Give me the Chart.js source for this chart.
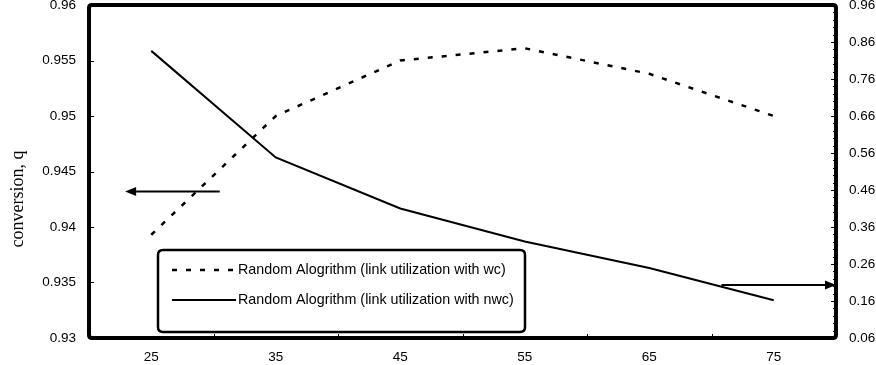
<!DOCTYPE html>
<html><head><meta charset="utf-8">
<style>html,body{margin:0;padding:0;background:#fff}#wrap{width:876px;height:365px}</style>
<script src="https://cdn.jsdelivr.net/npm/chart.js@4.4.1/dist/chart.umd.min.js"></script>
</head><body><div id="wrap"><canvas id="c" width="876" height="365"></canvas></div>
<script>
// ---- data ----
const categories = ['25', '35', '45', '55', '65', '75'];
const wcValues = [0.9393, 0.9500, 0.9550, 0.9561, 0.9538, 0.9500];   // left axis
const nwcValues = [0.836, 0.548, 0.410, 0.321, 0.249, 0.162];        // right axis
const leftTicks = [0.93, 0.935, 0.94, 0.945, 0.95, 0.955, 0.96];
const rightTicks = [0.06, 0.16, 0.26, 0.36, 0.46, 0.56, 0.66, 0.76, 0.86, 0.96];
const seriesLabels = ['Random Alogrithm (link utilization with wc)', 'Random Alogrithm (link utilization with nwc)'];
const yTitle = 'conversion, q';
// annotation arrows in data units: [xFromIndex, xToIndex, value]
const leftArrow = [0.55, -0.21, 0.9432];
const rightArrow = [4.58, 5.5, 0.203];

const FONT = "'Liberation Sans', Arial, sans-serif";

function fixScale(w, h) {
  return function (s) {
    if (w !== null) s.width = w;
    if (h !== null) s.height = h;
    s.paddingTop = 0; s.paddingBottom = 0; s.paddingLeft = 0; s.paddingRight = 0;
  };
}

function arrow(ctx, x1, y, x2) {
  const dir = Math.sign(x2 - x1);
  const hl = 11, hw = 4.5;
  ctx.beginPath();
  ctx.moveTo(x1, y); ctx.lineTo(x2 - dir * hl, y);
  ctx.lineWidth = 2; ctx.strokeStyle = '#000'; ctx.setLineDash([]); ctx.stroke();
  ctx.beginPath();
  ctx.moveTo(x2, y); ctx.lineTo(x2 - dir * hl, y - hw); ctx.lineTo(x2 - dir * hl, y + hw); ctx.closePath();
  ctx.fillStyle = '#000'; ctx.fill();
}

function roundRect(ctx, x, y, w, h, r) {
  ctx.beginPath();
  ctx.moveTo(x + r, y);
  ctx.lineTo(x + w - r, y); ctx.quadraticCurveTo(x + w, y, x + w, y + r);
  ctx.lineTo(x + w, y + h - r); ctx.quadraticCurveTo(x + w, y + h, x + w - r, y + h);
  ctx.lineTo(x + r, y + h); ctx.quadraticCurveTo(x, y + h, x, y + h - r);
  ctx.lineTo(x, y + r); ctx.quadraticCurveTo(x, y, x + r, y);
  ctx.closePath();
}

const decor = {
  id: 'decor',
  afterDatasetsDraw(chart) {
    const ctx = chart.ctx, a = chart.chartArea;
    const sx = chart.scales.x, sy = chart.scales.y, sy2 = chart.scales.y2;
    ctx.save();
    // inward ticks
    ctx.strokeStyle = '#000'; ctx.lineWidth = 1; ctx.setLineDash([]);
    leftTicks.forEach(v => { const y = Math.round(sy.getPixelForValue(v)) + 0.5; ctx.beginPath(); ctx.moveTo(a.left, y); ctx.lineTo(a.left + 5, y); ctx.stroke(); });
    for (let i = 0; i <= 45; i++) {
      const v = 0.06 + i * 0.02;
      const y = Math.round(sy2.getPixelForValue(v)) + 0.5;
      ctx.beginPath(); ctx.moveTo(a.right, y); ctx.lineTo(a.right - (i % 5 === 0 ? 5 : 3), y); ctx.stroke();
    }
    for (let i = 0; i < categories.length; i++) {
      const x = Math.round(sx.getPixelForValue(i + 0.5)) + 0.5;
      ctx.beginPath(); ctx.moveTo(x, a.bottom); ctx.lineTo(x, a.bottom - 4); ctx.stroke();
    }
    // frame
    ctx.lineWidth = 4; ctx.strokeStyle = '#000';
    roundRect(ctx, a.left, a.top, a.right - a.left, a.bottom - a.top, 3);
    ctx.stroke();
    // arrows
    arrow(ctx, sx.getPixelForValue(leftArrow[0]), sy.getPixelForValue(leftArrow[2]), sx.getPixelForValue(leftArrow[1]));
    arrow(ctx, sx.getPixelForValue(rightArrow[0]), sy2.getPixelForValue(rightArrow[2]), Math.min(a.right, sx.getPixelForValue(rightArrow[1])));
    // legend
    const lx = 158, ly = 250, lw = 367, lh = 82;
    roundRect(ctx, lx, ly, lw, lh, 5);
    ctx.fillStyle = '#fff'; ctx.fill();
    ctx.lineWidth = 2.5; ctx.strokeStyle = '#000'; ctx.stroke();
    chart.data.datasets.forEach((ds, i) => {
      const y = ly + 20 + i * 30;
      ctx.beginPath();
      ctx.setLineDash(ds.borderDash || []);
      ctx.lineWidth = ds.borderWidth; ctx.strokeStyle = '#000';
      ctx.moveTo(172, y); ctx.lineTo(236, y); ctx.stroke();
      ctx.setLineDash([]);
      ctx.fillStyle = '#000'; ctx.font = '14.3px ' + FONT; ctx.textBaseline = 'middle'; ctx.textAlign = 'left';
      ctx.fillText(ds.label, 238, y);
    });
    // y title
    ctx.translate(18, 199); ctx.rotate(-Math.PI / 2);
    ctx.font = "18px 'Liberation Serif', 'Times New Roman', serif";
    ctx.textAlign = 'center'; ctx.textBaseline = 'middle'; ctx.fillStyle = '#000';
    ctx.fillText(yTitle, 0, 0);
    ctx.restore();
  }
};

new Chart(document.getElementById('c'), {
  type: 'line',
  data: {
    labels: categories,
    datasets: [
      { label: seriesLabels[0], data: wcValues, yAxisID: 'y', borderColor: '#000', borderWidth: 2.5, borderDash: [5, 9], pointRadius: 0, tension: 0, fill: false },
      { label: seriesLabels[1], data: nwcValues, yAxisID: 'y2', borderColor: '#000', borderWidth: 2, pointRadius: 0, tension: 0, fill: false }
    ]
  },
  options: {
    responsive: false, animation: false, devicePixelRatio: 1,
    layout: { padding: { top: 5, left: 0, right: 0, bottom: 0 } },
    plugins: { legend: { display: false }, tooltip: { enabled: false } },
    scales: {
      x: {
        type: 'category', offset: true,
        grid: { display: false, drawTicks: false }, border: { display: false },
        ticks: { color: '#000', font: { family: FONT, size: 13.5 }, padding: 11, maxRotation: 0 },
        afterFit: fixScale(null, 27)
      },
      y: {
        position: 'left', min: 0.93, max: 0.96,
        grid: { display: false, drawTicks: false }, border: { display: false },
        afterBuildTicks: s => { s.ticks = leftTicks.map(v => ({ value: v })); },
        ticks: { color: '#000', font: { family: FONT, size: 13.5 }, padding: 13, callback: v => String(v) },
        afterFit: fixScale(89, null)
      },
      y2: {
        position: 'right', min: 0.06, max: 0.96,
        grid: { display: false, drawTicks: false }, border: { display: false },
        afterBuildTicks: s => { s.ticks = rightTicks.map(v => ({ value: v })); },
        ticks: { color: '#000', font: { family: FONT, size: 13.5 }, padding: 13, callback: v => String(v) },
        afterFit: fixScale(40, null)
      }
    }
  },
  plugins: [decor]
});
</script>
</body></html>
